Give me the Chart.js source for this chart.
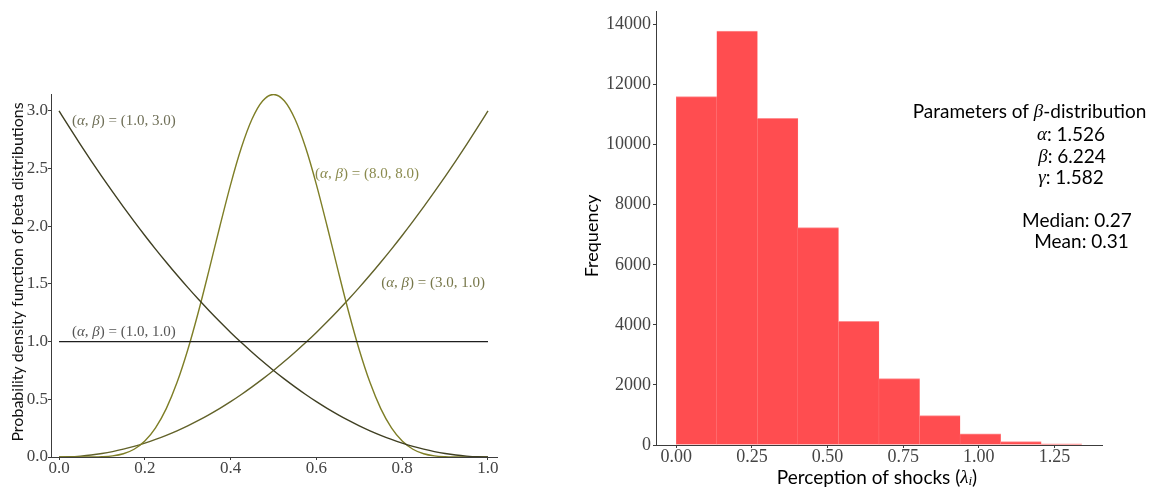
<!DOCTYPE html>
<html>
<head>
<meta charset="utf-8">
<script src="https://cdn.jsdelivr.net/npm/chart.js@4.4.1/dist/chart.umd.min.js"></script>
<style>
  html, body { margin: 0; padding: 0; background: #ffffff; }
  #wrap { position: relative; width: 1156px; height: 489px; overflow: hidden; }
  #betaCanvas { position: absolute; left: 0; top: 0; }
  #histCanvas { position: absolute; left: 560px; top: 0; }
</style>
</head>
<body>
<div id="wrap">
  <canvas id="betaCanvas" width="530" height="489"></canvas>
  <canvas id="histCanvas" width="596" height="489"></canvas>
</div>
<script>
// ---------- Beta density curves ----------
const densityX = [0.000, 0.025, 0.050, 0.075, 0.100, 0.125, 0.150, 0.175, 0.200, 0.225,
                  0.250, 0.275, 0.300, 0.325, 0.350, 0.375, 0.400, 0.425, 0.450, 0.475,
                  0.500, 0.525, 0.550, 0.575, 0.600, 0.625, 0.650, 0.675, 0.700, 0.725,
                  0.750, 0.775, 0.800, 0.825, 0.850, 0.875, 0.900, 0.925, 0.950, 0.975, 1.000];

const pdfBeta13 = [3.000, 2.852, 2.708, 2.567, 2.430, 2.297, 2.168, 2.042, 1.920, 1.802,
                   1.688, 1.577, 1.470, 1.367, 1.268, 1.172, 1.080, 0.992, 0.908, 0.827,
                   0.750, 0.677, 0.608, 0.542, 0.480, 0.422, 0.368, 0.317, 0.270, 0.227,
                   0.188, 0.152, 0.120, 0.092, 0.068, 0.047, 0.030, 0.017, 0.008, 0.002, 0.000];

const pdfBeta31 = [0.000, 0.002, 0.008, 0.017, 0.030, 0.047, 0.068, 0.092, 0.120, 0.152,
                   0.188, 0.227, 0.270, 0.317, 0.368, 0.422, 0.480, 0.542, 0.608, 0.677,
                   0.750, 0.827, 0.908, 0.992, 1.080, 1.172, 1.268, 1.367, 1.470, 1.577,
                   1.688, 1.802, 1.920, 2.042, 2.168, 2.297, 2.430, 2.567, 2.708, 2.852, 3.000];

const pdfBeta88 = [0.0000, 0.0000, 0.0000, 0.0004, 0.0025, 0.0096, 0.0282, 0.0673, 0.1382, 0.2524,
                   0.4194, 0.6447, 0.9272, 1.2588, 1.6237, 2.0000, 2.3611, 2.6794, 2.9287, 3.0875,
                   3.1421, 3.0875, 2.9287, 2.6794, 2.3611, 2.0000, 1.6237, 1.2588, 0.9272, 0.6447,
                   0.4194, 0.2524, 0.1382, 0.0673, 0.0282, 0.0096, 0.0025, 0.0004, 0.0000, 0.0000, 0.0000];

const uniformX = [0.0, 1.0];
const pdfBeta11 = [1.0, 1.0];

const curveLabels = ['(α, β) = (1.0, 3.0)', '(α, β) = (8.0, 8.0)', '(α, β) = (3.0, 1.0)', '(α, β) = (1.0, 1.0)'];
const densityXTicks = [0.0, 0.2, 0.4, 0.6, 0.8, 1.0];
const densityYTicks = [0.0, 0.5, 1.0, 1.5, 2.0, 2.5, 3.0];

// ---------- Histogram of perceived shocks ----------
const shockBinEdges = [0.000, 0.134, 0.268, 0.402, 0.536, 0.670, 0.804, 0.938, 1.072, 1.206, 1.340];
const shockCounts = [11600, 13780, 10880, 7240, 4120, 2210, 980, 370, 110, 35];
const shockXTicks = [0.00, 0.25, 0.50, 0.75, 1.00, 1.25];
const shockYTicks = [0, 2000, 4000, 6000, 8000, 10000, 12000, 14000];

const fitAlpha = 1.526;
const fitBeta = 6.224;
const fitGamma = 1.582;
const shockMedian = 0.27;
const shockMean = 0.31;

// ---------- shared helpers ----------
const SERIF = "'Liberation Serif', 'DejaVu Serif', serif";
const SANS = "Lato, 'Open Sans', 'DejaVu Sans', sans-serif";

function isGreek(ch) {
  const c = ch.charCodeAt(0);
  return c >= 0x0370 && c <= 0x03ff;
}

// Splits text into runs; Greek letters are set in italic serif like math symbols.
function textRuns(str, baseFont, size) {
  const runs = [];
  for (const ch of str) {
    const greek = isGreek(ch);
    const font = greek ? `italic ${size}px ${SERIF}` : `${size}px ${baseFont}`;
    if (runs.length && runs[runs.length - 1].font === font) runs[runs.length - 1].text += ch;
    else runs.push({ text: ch, font, dy: 0 });
  }
  return runs;
}

function drawRuns(ctx, runs, x, y, color, align) {
  ctx.save();
  ctx.fillStyle = color;
  ctx.textBaseline = 'middle';
  ctx.textAlign = 'left';
  let total = 0;
  for (const r of runs) { ctx.font = r.font; total += ctx.measureText(r.text).width; }
  let cx = align === 'center' ? x - total / 2 : (align === 'right' ? x - total : x);
  for (const r of runs) {
    ctx.font = r.font;
    ctx.fillText(r.text, cx, y + (r.dy || 0));
    cx += ctx.measureText(r.text).width;
  }
  ctx.restore();
}

function fixedTicks(values) {
  return (scale) => { scale.ticks = values.map(v => ({ value: v })); };
}

const axisInk = '#3c3c3c';
const tickInk = '#444444';

// ---------- left chart: beta probability density functions ----------
const betaLabelPlugin = {
  id: 'betaLabels',
  afterDatasetsDraw(chart, args, opts) {
    const { ctx, scales: { x, y } } = chart;
    opts.items.forEach(item => {
      const runs = textRuns(item.text, SERIF, opts.size);
      drawRuns(ctx, runs, x.getPixelForValue(item.x), y.getPixelForValue(item.y), item.color, 'left');
    });
    // vertical axis title
    ctx.save();
    ctx.translate(opts.titleX, opts.titleY);
    ctx.rotate(-Math.PI / 2);
    ctx.font = `${opts.titleSize}px ${SANS}`;
    ctx.fillStyle = '#111111';
    ctx.textAlign = 'center';
    ctx.textBaseline = 'middle';
    ctx.fillText(opts.title, 0, 0);
    ctx.restore();
  }
};

const toPoints = (xs, ys) => xs.map((v, i) => ({ x: v, y: ys[i] }));

new Chart(document.getElementById('betaCanvas'), {
  type: 'line',
  data: {
    datasets: [
      { data: toPoints(uniformX, pdfBeta11), borderColor: '#1e1e1e' },
      { data: toPoints(densityX, pdfBeta13), borderColor: '#3f3f22' },
      { data: toPoints(densityX, pdfBeta88), borderColor: '#7e7e26' },
      { data: toPoints(densityX, pdfBeta31), borderColor: '#626229' }
    ].map(ds => Object.assign(ds, {
      borderWidth: 1.4, pointRadius: 0, fill: false, cubicInterpolationMode: 'monotone'
    }))
  },
  options: {
    responsive: false,
    animation: false,
    events: [],
    layout: { padding: { left: 0, right: 33, top: 94, bottom: 0 } },
    plugins: {
      legend: { display: false },
      tooltip: { enabled: false },
      betaLabels: {
        size: 15,
        title: 'Probability density function of beta distributions',
        titleSize: 16,
        titleX: 18,
        titleY: 272,
        items: [
          { text: curveLabels[0], x: 0.030, y: 2.91, color: '#6e6e56' },
          { text: curveLabels[1], x: 0.597, y: 2.45, color: '#8a8a4e' },
          { text: curveLabels[2], x: 0.751, y: 1.51, color: '#77774a' },
          { text: curveLabels[3], x: 0.030, y: 1.08, color: '#555555' }
        ]
      }
    },
    scales: {
      x: {
        type: 'linear',
        min: -0.0187,
        max: 1.021,
        afterFit: s => { s.height = 32; },
        afterBuildTicks: fixedTicks(densityXTicks),
        border: { display: true, color: axisInk, width: 1 },
        grid: { display: true, drawOnChartArea: false, drawTicks: true, tickLength: 3, tickColor: axisInk },
        ticks: {
          color: tickInk, padding: 0, maxRotation: 0, autoSkip: false,
          font: { family: SERIF, size: 17, lineHeight: 1 },
          callback: v => v.toFixed(1)
        }
      },
      y: {
        type: 'linear',
        min: 0,
        max: 3.146,
        afterFit: s => { s.width = 51; },
        afterBuildTicks: fixedTicks(densityYTicks),
        border: { display: true, color: axisInk, width: 1 },
        grid: { display: true, drawOnChartArea: false, drawTicks: true, tickLength: 3, tickColor: axisInk },
        ticks: {
          color: tickInk, padding: 0, autoSkip: false,
          font: { family: SERIF, size: 17, lineHeight: 1 },
          callback: v => v.toFixed(1)
        }
      }
    }
  },
  plugins: [betaLabelPlugin]
});

// ---------- right chart: histogram of perceived shocks ----------
const histTextPlugin = {
  id: 'histText',
  afterDatasetsDraw(chart, args, opts) {
    const { ctx } = chart;
    const size = opts.size;
    // parameter box
    opts.lines.forEach(line => {
      drawRuns(ctx, textRuns(line.text, SANS, size), line.cx - opts.offsetX, line.y, '#000000', 'center');
    });
    // x-axis title with italic lambda and subscript i
    const xRuns = [
      { text: 'Perception of shocks (', font: `${size}px ${SANS}`, dy: 0 },
      { text: 'λ', font: `italic ${size}px ${SERIF}`, dy: 0 },
      { text: 'i', font: `italic ${Math.round(size * 0.7)}px ${SERIF}`, dy: 4 },
      { text: ')', font: `${size}px ${SANS}`, dy: 0 }
    ];
    drawRuns(ctx, xRuns, opts.xTitleX - opts.offsetX, opts.xTitleY, '#000000', 'center');
    // y-axis title
    ctx.save();
    ctx.translate(opts.yTitleX - opts.offsetX, opts.yTitleY);
    ctx.rotate(-Math.PI / 2);
    ctx.font = `${opts.yTitleSize}px ${SANS}`;
    ctx.fillStyle = '#000000';
    ctx.textAlign = 'center';
    ctx.textBaseline = 'middle';
    ctx.fillText('Frequency', 0, 0);
    ctx.restore();
  }
};

const histPoints = shockCounts.map((c, i) => ({
  x: (shockBinEdges[i] + shockBinEdges[i + 1]) / 2,
  y: c
}));

new Chart(document.getElementById('histCanvas'), {
  type: 'bar',
  data: {
    datasets: [{
      data: histPoints,
      backgroundColor: '#ff4d50',
      borderColor: '#ff8f91',
      borderWidth: { top: 1, left: 0.4, right: 0.4, bottom: 0 },
      borderSkipped: 'bottom',
      barPercentage: 1.0,
      categoryPercentage: 1.0
    }]
  },
  options: {
    responsive: false,
    animation: false,
    events: [],
    layout: { padding: { left: 0, right: 54, top: 11, bottom: 0 } },
    plugins: {
      legend: { display: false },
      tooltip: { enabled: false },
      histText: {
        size: 19,
        yTitleSize: 18,
        offsetX: 560,
        xTitleX: 877,
        xTitleY: 478,
        yTitleX: 592,
        yTitleY: 236,
        lines: [
          { text: 'Parameters of β-distribution', cx: 1029.5, y: 112 },
          { text: 'α: ' + fitAlpha.toFixed(3), cx: 1071, y: 135 },
          { text: 'β: ' + fitBeta.toFixed(3), cx: 1072, y: 157 },
          { text: 'γ: ' + fitGamma.toFixed(3), cx: 1071, y: 178 },
          { text: 'Median: ' + shockMedian.toFixed(2), cx: 1077, y: 221 },
          { text: 'Mean: ' + shockMean.toFixed(2), cx: 1081.5, y: 242 }
        ]
      }
    },
    scales: {
      x: {
        type: 'linear',
        offset: false,
        min: -0.067,
        max: 1.407,
        afterFit: s => { s.height = 44; },
        afterBuildTicks: fixedTicks(shockXTicks),
        border: { display: true, color: axisInk, width: 1 },
        grid: { display: true, offset: false, drawOnChartArea: false, drawTicks: true, tickLength: 3, tickColor: axisInk },
        ticks: {
          color: tickInk, padding: 0, maxRotation: 0, autoSkip: false,
          font: { family: SERIF, size: 18, lineHeight: 1 },
          callback: v => v.toFixed(2)
        }
      },
      y: {
        type: 'linear',
        min: 0,
        max: 14450,
        afterFit: s => { s.width = 96; },
        afterBuildTicks: fixedTicks(shockYTicks),
        border: { display: true, color: axisInk, width: 1 },
        grid: { display: true, drawOnChartArea: false, drawTicks: true, tickLength: 3, tickColor: axisInk },
        ticks: {
          color: tickInk, padding: 2, autoSkip: false,
          font: { family: SERIF, size: 18, lineHeight: 1 },
          callback: v => String(v)
        }
      }
    }
  },
  plugins: [histTextPlugin]
});
</script>
</body>
</html>
